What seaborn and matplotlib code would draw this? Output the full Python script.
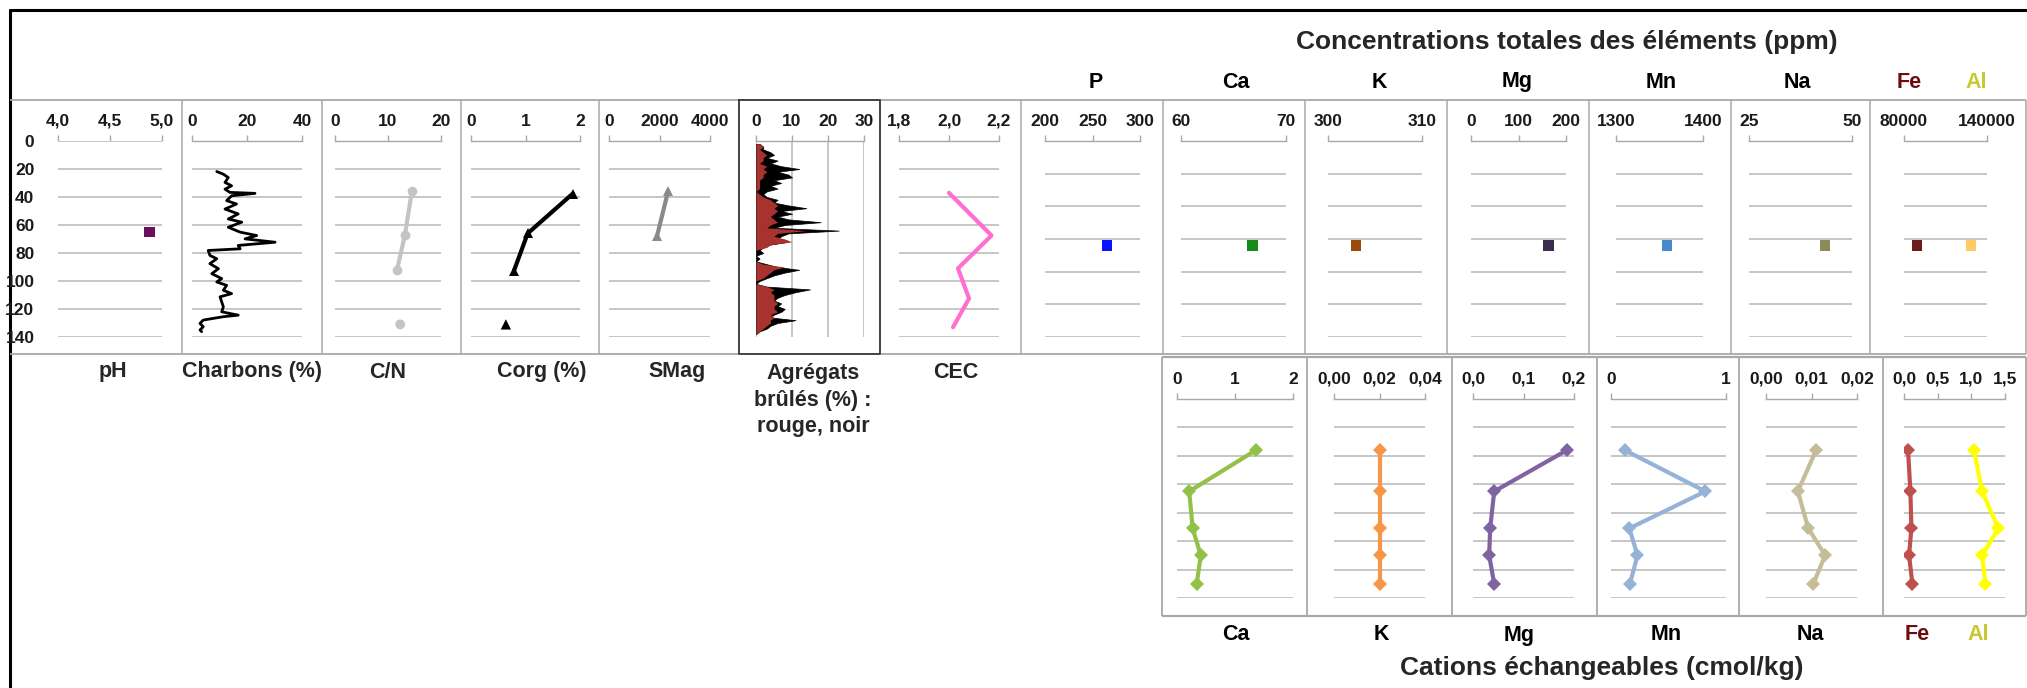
import numpy as np
import matplotlib.pyplot as plt
import seaborn as sns

W, H = 2027, 688

# --- profils (profondeur en cm)
ph_depth = [65]
ph_val = [4.88]

charb_depth = [21.8, 23.7, 26.1, 29.6, 32.0, 34.4, 36.7, 37.4, 39.1, 42.6, 45.0, 48.6, 52.1, 55.7,
               58.0, 61.6, 65.1, 67.5, 69.9, 72.3, 74.6, 77.0, 78.2, 81.7, 84.1, 87.6, 91.2, 94.8,
               98.3, 100.7, 103.1, 106.6, 109.0, 111.3, 114.9, 118.4, 122.0, 124.4, 125.5, 127.9,
               130.3, 132.7, 135.0, 136.2]
charb_val = [9.0, 11.4, 13.2, 12.0, 14.4, 12.0, 13.8, 22.9, 14.4, 12.6, 16.2, 12.0, 16.8, 13.2,
             18.1, 13.2, 17.5, 23.5, 19.3, 30.2, 16.8, 17.5, 5.9, 6.5, 9.0, 6.5, 9.6, 7.2,
             10.8, 9.0, 12.6, 11.4, 14.4, 10.2, 10.8, 11.4, 10.8, 16.8, 11.4, 4.1,
             2.9, 4.1, 2.9, 3.5]

cn_depth = [36, 67, 92, 131]
cn_val = [14.5, 13.2, 11.7, 12.3]

corg_depth = [37.5, 66, 92.5, 131]
corg_val = [1.87, 1.04, 0.79, 0.64]

smag_depth = [36, 68]
smag_val = [2340, 1900]

agg_depth = [2, 4, 6, 8, 10, 12, 14, 16, 18, 20, 22, 24, 26, 28, 30, 32, 34, 36, 38, 40, 42, 44, 46,
             48, 50, 52, 54, 56, 58, 60, 62, 64, 66, 68, 70, 72, 74, 76, 78, 80, 82, 84, 86, 88, 90,
             92, 94, 96, 98, 100, 102, 104, 106, 108, 110, 112, 114, 116, 118, 120, 122, 124, 126,
             128, 130, 132, 134, 136, 138]
agg_noir = [1, 2, 2, 4, 5, 3, 6, 4, 7, 12, 6, 9, 10, 5, 7, 4, 6, 3, 2, 3, 6, 5, 9,
            14, 7, 10, 6, 9, 18, 8, 5, 23, 9, 7, 6, 9, 4, 2, 1, 2, 0, 1, 0, 3, 6,
            12, 8, 5, 3, 1, 0, 3, 15, 11, 8, 6, 5, 7, 6, 8, 7, 5, 4,
            11, 6, 4, 3, 1, 0]
agg_rouge = [1, 2, 1, 2, 3, 2, 2, 1, 3, 2, 3, 2, 2, 1, 1, 1, 1, 0, 1, 2, 4, 5, 6,
             5, 6, 5, 4, 5, 6, 4, 3, 14, 6, 5, 8, 10, 4, 3, 0, 0, 0, 0, 0, 2, 8,
             5, 4, 3, 2, 0, 0, 3, 5, 4, 5, 5, 5, 6, 5, 5, 6, 4, 5,
             4, 4, 3, 2, 1, 0]

cec_depth = [37, 67.5, 91, 112.5, 133]
cec_val = [2.00, 2.17, 2.036, 2.08, 2.016]

# concentrations totales (ppm), un seul niveau
tot_depth = [80]
tot_P, tot_Ca, tot_K, tot_Mg = [265], [66.8], [303], [163]
tot_Mn, tot_Na, tot_Fe, tot_Al = [1359], [43.5], [89400], [128400]

# cations echangeables (cmol/kg)
cat_depth = [36, 65, 91, 110, 130]
ex_Ca = [1.36, 0.21, 0.27, 0.41, 0.34]
ex_K = [0.02, 0.02, 0.02, 0.02, 0.02]
ex_Mg = [0.186, 0.042, 0.034, 0.032, 0.042]
ex_Mn = [0.12, 0.82, 0.16, 0.23, 0.165]
ex_Na = [0.011, 0.007, 0.0093, 0.013, 0.0104]
ex_Fe = [0.06, 0.095, 0.11, 0.075, 0.125]
ex_Al = [1.04, 1.16, 1.40, 1.16, 1.21]

sns.set_theme(style="white")
plt.rcParams['font.family'] = ['Liberation Sans', 'DejaVu Sans']
plt.rcParams['font.weight'] = 'bold'

GRID = '#c6c6c6'
BOX = '#a8a8a8'

fig = plt.figure(figsize=(W / 100, H / 100), dpi=100)
bg = fig.add_axes([0, 0, 1, 1])
bg.set_xlim(0, W)
bg.set_ylim(H, 0)
bg.axis('off')

# cadre + boites des panneaux
bg.plot([10, 10], [10, H], color='black', lw=2.2)
bg.plot([10, W], [10, 10], color='black', lw=2.2)
top_edges = [10, 182, 322, 461, 599, 739, 880, 1021, 1163, 1305, 1447, 1589, 1731, 1870, 2026]
bg.hlines([100, 354], 10, 2026, color=BOX, lw=1.3)
bg.vlines(top_edges[1:], 100, 354, color=BOX, lw=1.1)
bg.plot([739, 880, 880, 739, 739], [100, 100, 354, 354, 100], color='#3c3c3c', lw=1.3)
bot_edges = [1162, 1307, 1452, 1597, 1739, 1883, 2026]
bg.hlines([357, 616], 1162, 2026, color=BOX, lw=1.6)
bg.vlines(bot_edges, 357, 616, color=BOX, lw=1.3)


def panel(x0, x1, y0, y1):
    return fig.add_axes([x0 / W, 1 - y1 / H, (x1 - x0) / W, (y1 - y0) / H])


def style(ax, xlim, ticks, dec, ymax=140, ystep=20, spine=True):
    ax.set_facecolor('none')
    ax.set_xlim(*xlim)
    ax.set_ylim(ymax, 0)
    ax.set_yticks(np.arange(0, ymax + 1, ystep))
    ax.set_xticks(ticks)
    ax.set_xticklabels([f"{t:.{dec}f}".replace('.', ',') for t in ticks])
    ax.xaxis.tick_top()
    ax.tick_params(axis='x', direction='out', length=4, width=1, color=BOX, pad=5,
                   labelsize=12.5, labelcolor='#1a1a1a')
    ax.tick_params(axis='y', left=False, labelleft=False)
    for s in ['left', 'right', 'bottom']:
        ax.spines[s].set_visible(False)
    ax.spines['top'].set_visible(spine)
    ax.spines['top'].set_color(BOX)
    ax.spines['top'].set_linewidth(1)
    ax.grid(axis='y', color=GRID, lw=1.4)
    ax.grid(axis='x', visible=False)
    ax.set_axisbelow(True)
    ax.set_xlabel('')
    ax.set_ylabel('')


TY0, TY1 = 141, 337

# pH
ax = panel(58, 162, TY0, TY1)
style(ax, (4.0, 5.0), [4.0, 4.5, 5.0], 1, spine=False)
ax.tick_params(axis='y', labelleft=True, pad=11, labelsize=12.5, labelcolor='#1a1a1a')
sns.scatterplot(x=ph_val, y=ph_depth, marker='s', s=55, color='#6b0f5f', edgecolor='none', ax=ax)

# Charbons
ax = panel(192, 302, TY0, TY1)
style(ax, (0, 40), [0, 20, 40], 0)
sns.lineplot(x=charb_val, y=charb_depth, sort=False, estimator=None, color='black', lw=2, ax=ax)

# C/N
ax = panel(335, 441, TY0, TY1)
style(ax, (0, 20), [0, 10, 20], 0)
sns.lineplot(x=cn_val[:3], y=cn_depth[:3], sort=False, estimator=None, color='#c4c4c4', lw=3,
             marker='o', markersize=7, markeredgewidth=0, ax=ax)
sns.scatterplot(x=cn_val[3:], y=cn_depth[3:], color='#c4c4c4', s=50, edgecolor='none', ax=ax)

# Corg
ax = panel(471, 580, TY0, TY1)
style(ax, (0, 2), [0, 1, 2], 0)
sns.lineplot(x=corg_val[:3], y=corg_depth[:3], sort=False, estimator=None, color='black', lw=3,
             marker='^', markersize=7, markeredgewidth=0, ax=ax)
sns.scatterplot(x=corg_val[3:], y=corg_depth[3:], color='black', marker='^', s=55,
                edgecolor='none', ax=ax)

# SMag
ax = panel(609, 710, TY0, TY1)
style(ax, (0, 4000), [0, 2000, 4000], 0)
sns.lineplot(x=smag_val, y=smag_depth, sort=False, estimator=None, color='#8a8a8a', lw=3,
             marker='^', markersize=7, markeredgewidth=0, ax=ax)

# Agregats brules
ax = panel(756, 864, TY0, TY1)
style(ax, (0, 30), [0, 10, 20, 30], 0)
ax.grid(axis='y', visible=False)
ax.grid(axis='x', color=GRID, lw=1.4)
ax.fill_betweenx(agg_depth, 0, agg_noir, color='black', lw=0.5)
ax.fill_betweenx(agg_depth, 0, agg_rouge, color='#a8322d', lw=0)

# CEC
ax = panel(899, 999, TY0, TY1)
style(ax, (1.8, 2.2), [1.8, 2.0, 2.2], 1)
sns.lineplot(x=cec_val, y=cec_depth, sort=False, estimator=None, color='#ff6fcf', lw=3, ax=ax)

# concentrations totales
tot_specs = [
    (1045, 1140, (200, 300), [200, 250, 300], tot_P, '#0a14ff'),
    (1181, 1286, (60, 70), [60, 70], tot_Ca, '#168a16'),
    (1328, 1422, (300, 310), [300, 310], tot_K, '#9c4a0c'),
    (1471, 1566, (0, 200), [0, 100, 200], tot_Mg, '#3a2d50'),
    (1616, 1703, (1300, 1400), [1300, 1400], tot_Mn, '#4a88cc'),
    (1749, 1852, (25, 50), [25, 50], tot_Na, '#8a8a5a'),
]
for x0, x1, lim, ticks, vals, col in tot_specs:
    ax = panel(x0, x1, TY0, TY1)
    style(ax, lim, ticks, 0, ymax=150, ystep=25)
    sns.scatterplot(x=vals, y=tot_depth, marker='s', s=55, color=col, edgecolor='none', ax=ax)
ax = panel(1904, 1987, TY0, TY1)
style(ax, (80000, 140000), [80000, 140000], 0, ymax=150, ystep=25)
sns.scatterplot(x=tot_Fe, y=tot_depth, marker='s', s=55, color='#6e1a1a', edgecolor='none', ax=ax)
sns.scatterplot(x=tot_Al, y=tot_depth, marker='s', s=55, color='#ffc966', edgecolor='none', ax=ax)

# cations echangeables
BY0, BY1 = 399, 598
cat_specs = [
    (1177, 1293, (0, 2), [0, 1, 2], 0, [(ex_Ca, '#93c047')]),
    (1334, 1425, (0, 0.04), [0, 0.02, 0.04], 2, [(ex_K, '#f79646')]),
    (1473, 1574, (0, 0.2), [0, 0.1, 0.2], 1, [(ex_Mg, '#8064a2')]),
    (1611, 1726, (0, 1), [0, 1], 0, [(ex_Mn, '#95b3d7')]),
    (1766, 1857, (0, 0.02), [0, 0.01, 0.02], 2, [(ex_Na, '#c4bd97')]),
    (1904, 2005, (0, 1.5), [0, 0.5, 1.0, 1.5], 1, [(ex_Fe, '#c0504d'), (ex_Al, '#ffff00')]),
]
for x0, x1, lim, ticks, dec, series in cat_specs:
    ax = panel(x0, x1, BY0, BY1)
    style(ax, lim, ticks, dec)
    for vals, col in series:
        sns.lineplot(x=vals, y=cat_depth, sort=False, estimator=None, color=col, lw=3,
                     marker='D', markersize=7, markeredgewidth=0, ax=ax)
    ax.set_xlim(*lim)

# textes
LBL = dict(fontsize=15.5, fontweight='bold', ha='center', va='center')
for x, t in [(113, 'pH'), (252, 'Charbons (%)'), (388, 'C/N'), (542, 'Corg (%)'),
             (677, 'SMag'), (956, 'CEC')]:
    bg.text(x, 372, t, **LBL)
bg.text(813, 363, 'Agrégats\nbrûlés (%) :\nrouge, noir', fontsize=15.5, fontweight='bold',
        ha='center', va='top', linespacing=1.35)

bg.text(1567, 42, 'Concentrations totales des éléments (ppm)', fontsize=19, fontweight='bold',
        ha='center', va='center')
for x, t, c in [(1096, 'P', 'black'), (1236, 'Ca', 'black'), (1379, 'K', 'black'),
                (1517, 'Mg', 'black'), (1661, 'Mn', 'black'), (1797, 'Na', 'black'),
                (1909, 'Fe', '#6b0d0d'), (1976, 'Al', '#c8c832')]:
    bg.text(x, 82, t, color=c, **LBL)
for x, t, c in [(1236, 'Ca', 'black'), (1381, 'K', 'black'), (1519, 'Mg', 'black'),
                (1666, 'Mn', 'black'), (1810, 'Na', 'black'),
                (1917, 'Fe', '#6b0d0d'), (1978, 'Al', '#c8c832')]:
    bg.text(x, 635, t, color=c, **LBL)
bg.text(1602, 668, 'Cations échangeables (cmol/kg)', fontsize=19, fontweight='bold',
        ha='center', va='center')

fig.savefig('out.png', dpi=100)
